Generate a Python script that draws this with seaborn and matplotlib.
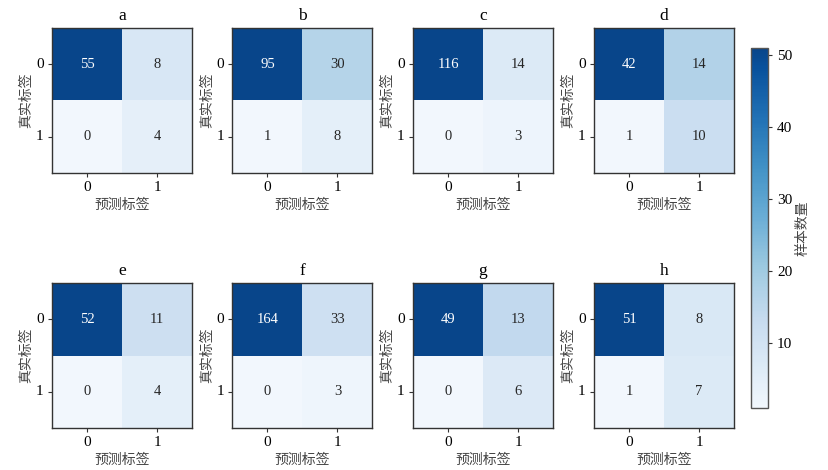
import numpy as np
import matplotlib
matplotlib.use("Agg")
import matplotlib.pyplot as plt
from matplotlib.colors import ListedColormap
import seaborn as sns

plt.rcParams['font.family'] = ['Liberation Serif', 'Noto Sans CJK SC']
plt.rcParams['axes.unicode_minus'] = False

# confusion matrices: [[TN, FP], [FN, TP]]
panel_names = ['a', 'b', 'c', 'd', 'e', 'f', 'g', 'h']
cm_a = [[55, 8], [0, 4]]
cm_b = [[95, 30], [1, 8]]
cm_c = [[116, 14], [0, 3]]
cm_d = [[42, 14], [1, 10]]
cm_e = [[52, 11], [0, 4]]
cm_f = [[164, 33], [0, 3]]
cm_g = [[49, 13], [0, 6]]
cm_h = [[51, 8], [1, 7]]
matrices = [cm_a, cm_b, cm_c, cm_d, cm_e, cm_f, cm_g, cm_h]
class_labels = ['0', '1']

# Blues, slightly trimmed at both ends
cmap = ListedColormap(plt.get_cmap('Blues')(np.linspace(0.03, 0.92, 256)))

fig = plt.figure(figsize=(8.29, 4.70), dpi=100)

W, H = 829, 470
lefts = [52, 232.5, 413, 594]
tops = [28, 283]
aw, ah = 140, 145
edge = '#333333'

cax = fig.add_axes([751 / W, 1 - 408 / H, 17 / W, 360 / H])

for i, (name, cm) in enumerate(zip(panel_names, matrices)):
    r, c = divmod(i, 4)
    ax = fig.add_axes([lefts[c] / W, 1 - (tops[r] + ah) / H, aw / W, ah / H])
    last = i == len(matrices) - 1
    sns.heatmap(np.array(cm), ax=ax, cmap=cmap, annot=True, fmt='d',
                annot_kws={'fontsize': 10.5},
                xticklabels=class_labels, yticklabels=class_labels,
                cbar=last, cbar_ax=cax if last else None)
    for s in ax.spines.values():
        s.set_visible(True)
        s.set_color(edge)
        s.set_linewidth(1.0)
    ax.tick_params(axis='both', labelsize=11, length=3, width=0.8, color=edge, pad=3)
    ax.set_yticklabels(class_labels, rotation=0)
    ax.set_xlabel('预测标签', fontsize=10, color='#444444', labelpad=3)
    ax.set_ylabel('真实标签', fontsize=10, color='#444444', labelpad=2)
    ax.set_title(name, fontsize=12.5, pad=6)
    if last:
        cbar = ax.collections[0].colorbar
        cbar.outline.set_edgecolor('#555555')
        cbar.outline.set_linewidth(1.0)
        cbar.ax.tick_params(labelsize=11, length=3, width=0.8, color=edge)
        cbar.set_label('样本数量', fontsize=10, color='#444444', labelpad=3)

fig.savefig('out.png', dpi=100)
